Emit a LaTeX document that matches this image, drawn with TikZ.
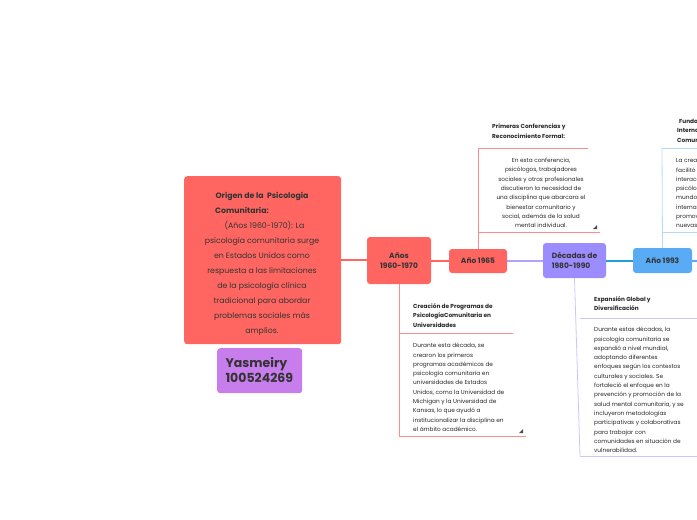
\documentclass[tikz,border=0pt]{standalone}
\usepackage{fontspec}
\setmainfont{Poppins}
\begin{document}
\begin{tikzpicture}[x=1pt,y=-1pt,
  box/.style={rounded corners=3pt,inner sep=0pt},
  ttl/.style={font=\fontsize{9}{11}\selectfont\bfseries,text=black!80,align=center},
  small/.style={font=\fontsize{5.8}{9.3}\selectfont,text=black!85,inner sep=0pt},
  smallb/.style={font=\fontsize{5.8}{9.6}\selectfont\bfseries,text=black!85,inner sep=0pt},
  red1/.style={draw=red!45,line width=0.8pt},
  ln/.style={line width=1.2pt}]
\definecolor{cred}{HTML}{FF6661}
\definecolor{cpur}{HTML}{C77DEB}
\definecolor{cvio}{HTML}{9B8CFF}
\definecolor{cblu}{HTML}{5AABF5}
\useasboundingbox (0,0) rectangle (697,520);
\clip (0,0) rectangle (697,520);
% connectors
\coordinate (m1) at (341,260); \coordinate (a1) at (367,260);
\draw[ln,cred] (m1) -- (a1);
\draw[ln,cred] (431,261) -- (449,261);
\draw[ln,cvio!80] (507,261) -- (543,261);
\draw[ln,cyan!70!teal] (606,261) -- (633,261);
\draw[ln,cblu] (692,261) -- (697,261);
% boxes
\node[box,fill=cred,minimum width=157,minimum height=168,anchor=north west] (main) at (184,176) {};
\node[font=\fontsize{7.8}{15}\selectfont,text=black!80,align=center,inner sep=0pt,anchor=north] at (262,192) {\textbf{Origen de la\ \ Psicologia}\\\hspace*{-40pt}\textbf{Comunitaria:}\\\hspace*{5pt}(Años 1960-1970): La\\psicología comunitaria surge\\en Estados Unidos como\\respuesta a las limitaciones\\de la psicología clínica\\tradicional para abordar\\problemas sociales más\\amplios.};
\node[box,fill=cpur,minimum width=85,minimum height=45,anchor=north west] (yas) at (217,348) {};
\node[font=\fontsize{12.5}{15}\selectfont\bfseries,text=black!80,align=left,anchor=west] at (222,370.5) {Yasmeiry\\100524269};
\node[box,fill=cred,minimum width=64,minimum height=47,ttl,font=\fontsize{7.5}{10}\selectfont\bfseries] (a60) at (399,260.5) {Años\\1960-1970};
\node[box,fill=cred,minimum width=58,minimum height=24,ttl,font=\fontsize{7.5}{10}\selectfont\bfseries] (a65) at (478,261) {Año 1965};
\node[box,fill=cvio,minimum width=63,minimum height=35,ttl,font=\fontsize{7.5}{10}\selectfont\bfseries,align=left] (dec) at (574.5,260.5) {Décadas de\\1980-1990};
\node[box,fill=cblu,minimum width=59,minimum height=25,ttl,font=\fontsize{7.5}{10}\selectfont\bfseries] (a93) at (662.5,260.5) {Año 1993};
% 1965 branch
\draw[red1] (a65.north) -- (478,148);
\draw[red1] (478,148) -- (588,148);
\draw[red1] (478,232) -- (600,232);
\node[smallb,align=left,anchor=north west] at (492,124) {Primeras Conferencias y\\Reconocimiento Formal:};
\node[small,align=center,anchor=north] at (541,158) {En esta conferencia,\\psicólogos, trabajadores\\sociales y otros profesionales\\discutieron la necesidad de\\una disciplina que abarcara el\\bienestar comunitario y\\social, además de la salud\\mental individual.};
\fill[black!70] (597,225) -- (597,229) -- (593,229) -- cycle;
% 1960 branch
\draw[red1] (a60.south) -- (399,436);
\draw[red1] (399,333) -- (513,333);
\draw[red1] (399,436) -- (526,436);
\node[smallb,align=left,anchor=north west] at (413,303) {Creación de Programas de\\PsicologíaComunitaria en\\Universidades};
\node[small,align=left,anchor=north west] at (413,343) {Durante esta década, se\\crearon los primeros\\programas académicos de\\psicología comunitaria en\\universidades de Estados\\Unidos, como la Universidad de\\Michigan y la Universidad de\\Kansas, lo que ayudó a\\institucionalizar la disciplina en\\el ámbito académico.};
\fill[black!70] (523,429) -- (523,433) -- (519,433) -- cycle;
% decades branch
\draw[draw=cvio!50,line width=0.8pt] (dec.south) -- (580,456);
\draw[draw=cvio!50,line width=0.8pt] (580,318) -- (697,318);
\draw[draw=cvio!50,line width=0.8pt] (580,456) -- (697,456);
\node[smallb,align=left,anchor=north west] at (594,296) {Expansión Global y\\Diversificación};
\node[small,align=left,anchor=north west] at (594,327) {Durante estas décadas, la\\psicología comunitaria se\\expandió a nivel mundial,\\adoptando diferentes\\enfoques según los contextos\\culturales y sociales. Se\\fortaleció el enfoque en la\\prevención y promoción de la\\salud mental comunitaria, y se\\incluyeron metodologías\\participativas y colaborativas\\para trabajar con\\comunidades en situación de\\vulnerabilidad.};
% 1993 branch
\draw[draw=cblu!45,line width=0.8pt] (a93.north) -- (662,148);
\draw[draw=cblu!45,line width=0.8pt] (662,148) -- (697,148);
\draw[draw=cblu!45,line width=0.8pt] (662,232) -- (697,232);
\node[smallb,align=left,anchor=north west] at (677,118) {\hspace*{2pt}Fundación de la Sociedad\\Internacional de Psicología\\Comunitaria:};
\node[small,align=left,anchor=north west] at (676,158) {La creación de esta sociedad\\facilitó la\\interacción entre\\psicólogos de todo el\\mundo y la\\internacionalización,\\promoviendo\\nuevas};
\end{tikzpicture}
\end{document}
